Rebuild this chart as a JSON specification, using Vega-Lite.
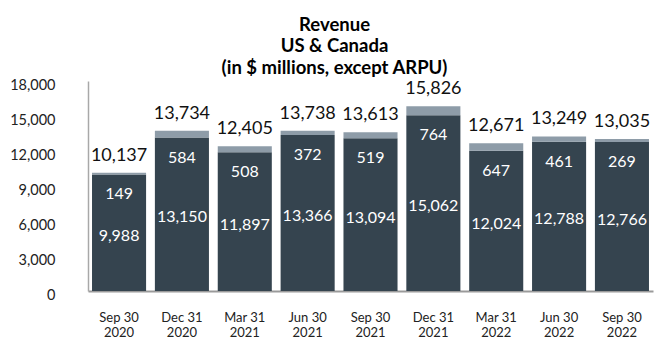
{
  "$schema": "https://vega.github.io/schema/vega-lite/v6.json",
  "autosize": "none",
  "width": 565,
  "height": 210,
  "padding": {"left": 88, "top": 81, "right": 15, "bottom": 61},
  "background": "white",
  "title": {
    "text": ["Revenue", "US & Canada", "(in $ millions, except ARPU)"],
    "font": "Lato",
    "fontSize": 18.5,
    "fontWeight": "bold",
    "color": "#000000",
    "lineHeight": 21.5,
    "anchor": "middle",
    "frame": "group",
    "dx": -36,
    "offset": 0
  },
  "config": {
    "view": {"stroke": null},
    "font": "Lato"
  },
  "data": {
    "values": [
      {"period": "Sep 30 2020", "a": 9988, "b": 149, "total": 10137},
      {"period": "Dec 31 2020", "a": 13150, "b": 584, "total": 13734},
      {"period": "Mar 31 2021", "a": 11897, "b": 508, "total": 12405},
      {"period": "Jun 30 2021", "a": 13366, "b": 372, "total": 13738},
      {"period": "Sep 30 2021", "a": 13094, "b": 519, "total": 13613},
      {"period": "Dec 31 2021", "a": 15062, "b": 764, "total": 15826},
      {"period": "Mar 31 2022", "a": 12024, "b": 647, "total": 12671},
      {"period": "Jun 30 2022", "a": 12788, "b": 461, "total": 13249},
      {"period": "Sep 30 2022", "a": 12766, "b": 269, "total": 13035}
    ]
  },
  "encoding": {
    "x": {
      "field": "period",
      "type": "nominal",
      "sort": null,
      "scale": {"paddingInner": 0.14, "paddingOuter": 0.064},
      "axis": {
        "title": null,
        "labelAngle": 0,
        "labelExpr": "[slice(datum.value, 0, 6), slice(datum.value, 7)]",
        "labelFont": "Lato",
        "labelFontSize": 13,
        "labelLineHeight": 15.5,
        "labelColor": "#222222",
        "labelPadding": 20,
        "ticks": false,
        "domainColor": "#9a9a9a",
        "domainWidth": 2,
        "grid": false
      }
    }
  },
  "resolve": {"scale": {"y": "independent"}},
  "layer": [
    {
      "mark": {"type": "bar", "color": "#35444f"},
      "encoding": {
        "y": {
          "field": "a",
          "type": "quantitative",
          "scale": {"domain": [0, 18000], "nice": false, "zero": true},
          "axis": {
            "title": null,
            "values": [0, 3000, 6000, 9000, 12000, 15000, 18000],
            "format": ",d",
            "labelFont": "Lato",
            "labelFontSize": 14.5,
            "labelColor": "#222222",
            "labelPadding": 33,
            "labelOffset": 4,
            "labelOverlap": false,
            "ticks": false,
            "grid": false,
            "domainColor": "#a8a8a8",
            "domainWidth": 1.5
          }
        }
      }
    },
    {
      "mark": {"type": "bar", "color": "#8e9ca8"},
      "encoding": {
        "y": {"field": "a", "type": "quantitative", "scale": {"domain": [0, 18000], "nice": false}, "axis": null},
        "y2": {"field": "total"}
      }
    },
    {
      "mark": {"type": "text", "baseline": "alphabetic", "dy": -12, "fontSize": 18, "color": "#111111", "font": "Lato"},
      "encoding": {
        "y": {"field": "total", "type": "quantitative", "scale": {"domain": [0, 18000], "nice": false}, "axis": null},
        "text": {"field": "total", "type": "quantitative", "format": ","}
      }
    },
    {
      "mark": {"type": "text", "baseline": "middle", "dy": 20, "fontSize": 16, "color": "#ffffff", "font": "Lato"},
      "encoding": {
        "y": {"field": "a", "type": "quantitative", "scale": {"domain": [0, 18000], "nice": false}, "axis": null},
        "text": {"field": "b", "type": "quantitative", "format": ","}
      }
    },
    {
      "mark": {"type": "text", "baseline": "middle", "dy": 3, "fontSize": 16, "color": "#ffffff", "font": "Lato"},
      "encoding": {
        "y": {"field": "a", "type": "quantitative", "scale": {"domain": [0, 36000], "nice": false}, "axis": null},
        "text": {"field": "a", "type": "quantitative", "format": ","}
      }
    }
  ]
}
